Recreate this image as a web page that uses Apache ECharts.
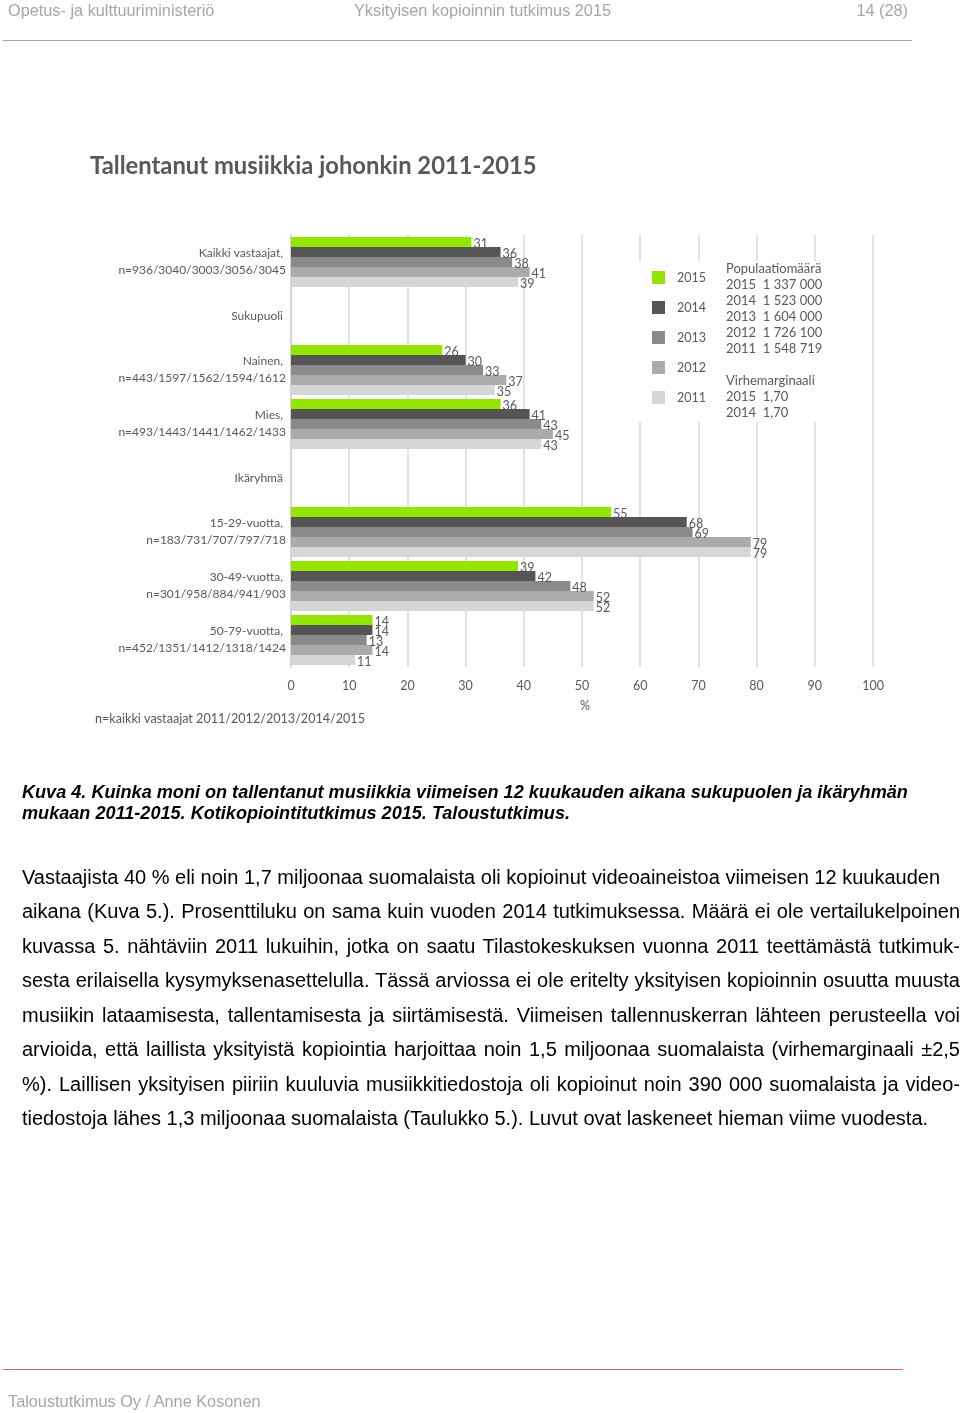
<!DOCTYPE html>
<html>
<head>
<meta charset="utf-8">
<script src="https://cdn.jsdelivr.net/npm/echarts@6/dist/echarts.min.js"></script>
<style>
  html, body { margin: 0; padding: 0; background: #fff; }
  body { width: 960px; height: 1413px; position: relative; overflow: hidden; }
  #chart { position: absolute; left: 0; top: 0; width: 960px; height: 1413px; }
  .t { position: absolute; white-space: nowrap; font-family: "Liberation Sans", Arial, sans-serif; }
  .hdr { font-size: 16.3px; color: #a6a6a6; line-height: 20px; }
  .cap { font-size: 18.1px; font-weight: bold; font-style: italic; color: #000; line-height: 20px; left: 22px; }
  .p { font-size: 20px; color: #000; line-height: 22px; left: 22px; text-align: justify; text-align-last: justify; }
  .rule { position: absolute; height: 1px; }
</style>
</head>
<body>
<div id="chart"></div>

<div class="t hdr" style="left:8px; top:0px;">Opetus- ja kulttuuriministeriö</div>
<div class="t hdr" style="left:354px; top:0px;">Yksityisen kopioinnin tutkimus 2015</div>
<div class="t hdr" style="right:52px; top:0px;">14 (28)</div>
<div class="rule" style="left:3px; top:40px; width:909px; background:#c29aa2;"></div>

<div class="t cap" style="top:782px;">Kuva 4. Kuinka moni on tallentanut musiikkia viimeisen 12 kuukauden aikana sukupuolen ja ikäryhmän</div>
<div class="t cap" style="top:803px;">mukaan 2011-2015. Kotikopiointitutkimus 2015. Taloustutkimus.</div>

<div class="t p" style="top:866px; width:918px;">Vastaajista 40 % eli noin 1,7 miljoonaa suomalaista oli kopioinut videoaineistoa viimeisen 12 kuukauden</div>
<div class="t p" style="top:900px; width:938px;">aikana (Kuva 5.). Prosenttiluku on sama kuin vuoden 2014 tutkimuksessa. Määrä ei ole vertailukelpoinen</div>
<div class="t p" style="top:935px; width:938px;">kuvassa 5. nähtäviin 2011 lukuihin, jotka on saatu Tilastokeskuksen vuonna 2011 teettämästä tutkimuk-</div>
<div class="t p" style="top:969px; width:938px;">sesta erilaisella kysymyksenasettelulla. Tässä arviossa ei ole eritelty yksityisen kopioinnin osuutta muusta</div>
<div class="t p" style="top:1004px; width:938px;">musiikin lataamisesta, tallentamisesta ja siirtämisestä. Viimeisen tallennuskerran lähteen perusteella voi</div>
<div class="t p" style="top:1038px; width:938px;">arvioida, että laillista yksityistä kopiointia harjoittaa noin 1,5 miljoonaa suomalaista (virhemarginaali ±2,5</div>
<div class="t p" style="top:1073px; width:938px;">%). Laillisen yksityisen piiriin kuuluvia musiikkitiedostoja oli kopioinut noin 390 000 suomalaista ja video-</div>
<div class="t p" style="top:1107px; text-align:left; text-align-last:left;">tiedostoja lähes 1,3 miljoonaa suomalaista (Taulukko 5.). Luvut ovat laskeneet hieman viime vuodesta.</div>

<div class="rule" style="left:3px; top:1369px; width:900px; background:#d9606e;"></div>
<div class="t hdr" style="left:8px; top:1391px;">Taloustutkimus Oy / Anne Kosonen</div>

<script>
// ---- data ----
const categories = [
  'Kaikki vastaajat, \nn=936/3040/3003/3056/3045',
  'Sukupuoli ',
  'Nainen, \nn=443/1597/1562/1594/1612',
  'Mies, \nn=493/1443/1441/1462/1433',
  'Ikäryhmä ',
  '15-29-vuotta, \nn=183/731/707/797/718',
  '30-49-vuotta, \nn=301/958/884/941/903',
  '50-79-vuotta, \nn=452/1351/1412/1318/1424'
];
const years = ['2015', '2014', '2013', '2012', '2011'];
const v2015 = [31, '-', 26, 36, '-', 55, 39, 14];
const v2014 = [36, '-', 30, 41, '-', 68, 42, 14];
const v2013 = [38, '-', 33, 43, '-', 69, 48, 13];
const v2012 = [41, '-', 37, 45, '-', 79, 52, 14];
const v2011 = [39, '-', 35, 43, '-', 79, 52, 11];
const xTicks = [0, 10, 20, 30, 40, 50, 60, 70, 80, 90, 100];
const popYears = ['2015', '2014', '2013', '2012', '2011'];
const popValues = ['1 337 000', '1 523 000', '1 604 000', '1 726 100', '1 548 719'];
const marginYears = ['2015', '2014'];
const marginValues = ['1,70', '1,70'];

const seriesValues = [v2015, v2014, v2013, v2012, v2011];
const colors = ['#94e600', '#555555', '#8a8a8a', '#ababab', '#d6d6d6'];
const FONT = 'Lato, "Open Sans", sans-serif';
const GRAY = '#595959';

const infoText = ['Populaatiomäärä']
  .concat(popYears.map((y, i) => y + '  ' + popValues[i]))
  .concat([''])
  .concat(['Virhemarginaali'])
  .concat(marginYears.map((y, i) => y + '  ' + marginValues[i]))
  .join('\n');

const chart = echarts.init(document.getElementById('chart'), null, { renderer: 'canvas' });
chart.setOption({
  animation: false,
  backgroundColor: 'transparent',
  title: {
    text: 'Tallentanut musiikkia johonkin 2011-2015',
    left: 90, top: 154, padding: 0,
    textStyle: { fontFamily: FONT, fontSize: 23.8, fontWeight: 'bold', color: GRAY }
  },
  grid: { left: 291, right: 87, top: 235, bottom: 746, containLabel: false },
  xAxis: {
    type: 'value', min: 0, max: 100, interval: 10,
    name: '%', nameLocation: 'middle', nameGap: 32,
    nameTextStyle: { fontFamily: FONT, fontSize: 12.5, color: GRAY, padding: [0, 0, 0, 6] },
    axisLine: { show: false }, axisTick: { show: false },
    axisLabel: { margin: 12, fontFamily: FONT, fontSize: 12.5, color: GRAY,
      formatter: v => xTicks.indexOf(v) >= 0 ? String(v) : '' },
    splitLine: { show: true, lineStyle: { color: '#d9d9d9', width: 1.5 } }
  },
  yAxis: {
    type: 'category', inverse: true, data: categories,
    axisLine: { show: true, lineStyle: { color: '#d0d0d0', width: 1.5 } },
    axisTick: { show: false },
    axisLabel: { margin: 5, fontFamily: FONT, fontSize: 12, color: GRAY, lineHeight: 17, align: 'right' }
  },
  legend: {
    data: years, orient: 'vertical', left: 652, top: 271, itemGap: 17,
    itemWidth: 13, itemHeight: 13, icon: 'rect', z: 20, padding: 0,
    textStyle: { fontFamily: FONT, fontSize: 12.5, color: GRAY, padding: [0, 0, 0, 7] }
  },
  graphic: [
    { type: 'rect', z: 10, shape: { x: 636, y: 261, width: 230, height: 161 }, style: { fill: '#ffffff' } },
    { type: 'text', z: 20, left: 726, top: 261,
      style: { text: infoText, font: '13px ' + FONT, fill: GRAY, lineHeight: 16 } },
    { type: 'text', z: 20, left: 95, top: 712,
      style: { text: 'n=kaikki vastaajat 2011/2012/2013/2014/2015', font: '12.6px ' + FONT, fill: GRAY } }
  ],
  series: years.map((y, i) => ({
    name: y, type: 'bar', data: seriesValues[i],
    barWidth: 10, barGap: '0%',
    itemStyle: { color: colors[i] },
    label: { show: true, position: 'right', distance: 2, fontFamily: FONT, fontSize: 12.5, color: GRAY, offset: [0, 2] }
  }))
});
</script>
</body>
</html>
